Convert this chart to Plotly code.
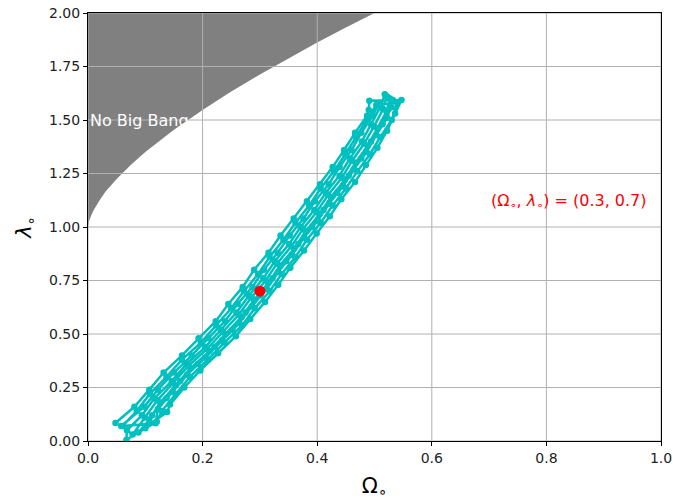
import plotly.graph_objects as go

# ---- data ----
boundary_omega = [0.0, 0.002, 0.005, 0.01, 0.02, 0.03, 0.05, 0.075, 0.1, 0.15, 0.2, 0.25, 0.3, 0.35, 0.4, 0.45, 0.5]
boundary_lambda = [1.0, 1.029, 1.050, 1.080, 1.124, 1.163, 1.224, 1.291, 1.350, 1.455, 1.547, 1.633, 1.713, 1.789, 1.862, 1.932, 2.0]

chain_omega = [
    # A (up)
    0.048, 0.081, 0.107, 0.132, 0.164, 0.193, 0.223, 0.245, 0.270, 0.290, 0.315, 0.336, 0.359, 0.382, 0.405, 0.427, 0.447, 0.466, 0.487, 0.490, 0.491,
    # B (down)
    0.547, 0.536, 0.522, 0.505, 0.485, 0.466, 0.442, 0.422, 0.399, 0.377, 0.353, 0.332, 0.309, 0.283, 0.258, 0.227, 0.196, 0.168, 0.143, 0.138,
    # C (up)
    0.067, 0.068, 0.094, 0.116, 0.146, 0.172, 0.205, 0.232, 0.259, 0.281, 0.306, 0.326, 0.351, 0.371, 0.395, 0.415, 0.439, 0.457, 0.478, 0.494, 0.510, 0.518,
    # D (down)
    0.532, 0.522, 0.503, 0.486, 0.464, 0.445, 0.421, 0.401, 0.377, 0.356, 0.332, 0.312, 0.286, 0.264, 0.234, 0.205, 0.173, 0.148, 0.122, 0.118,
    # E (up)
    0.060, 0.085, 0.108, 0.137, 0.164, 0.197, 0.224, 0.250, 0.272, 0.297, 0.317, 0.341, 0.362, 0.386, 0.406, 0.429, 0.449, 0.468, 0.487, 0.503,
    # F (down)
    0.540, 0.530, 0.510, 0.492, 0.470, 0.450, 0.427, 0.406, 0.382, 0.362, 0.338, 0.317, 0.291, 0.269, 0.238, 0.209, 0.178, 0.153, 0.129, 0.120,
    # G (up)
    0.088, 0.107, 0.126, 0.153, 0.179, 0.212, 0.240, 0.268, 0.290, 0.315, 0.335, 0.360, 0.380, 0.404, 0.424, 0.448, 0.467, 0.488, 0.505, 0.521, 0.527,
    # H (down)
    0.508, 0.497, 0.477, 0.460, 0.439, 0.420, 0.396, 0.376, 0.352, 0.331, 0.307, 0.287, 0.261, 0.239, 0.210, 0.181, 0.150, 0.122, 0.098, 0.058,
    # I (up)
    0.078, 0.099, 0.121, 0.148, 0.175, 0.208, 0.235, 0.263, 0.285, 0.310, 0.330, 0.355, 0.375, 0.399, 0.419, 0.443, 0.461, 0.482, 0.499, 0.515, 0.522,
    # J (down)
    0.530, 0.514, 0.494, 0.477, 0.455, 0.435, 0.411, 0.391, 0.367, 0.346, 0.322, 0.301, 0.275, 0.252, 0.221, 0.192, 0.161, 0.137, 0.112, 0.100,
]
chain_lambda = [
    # A
    0.084, 0.16, 0.24, 0.32, 0.40, 0.48, 0.56, 0.64, 0.72, 0.80, 0.88, 0.96, 1.04, 1.12, 1.20, 1.28, 1.36, 1.44, 1.52, 1.547, 1.59,
    # B
    1.593, 1.53, 1.45, 1.37, 1.29, 1.21, 1.13, 1.05, 0.97, 0.89, 0.81, 0.73, 0.65, 0.57, 0.49, 0.41, 0.33, 0.25, 0.17, 0.135,
    # C
    0.005, 0.05, 0.12, 0.20, 0.28, 0.36, 0.44, 0.52, 0.60, 0.68, 0.76, 0.84, 0.92, 1.00, 1.08, 1.16, 1.24, 1.32, 1.40, 1.48, 1.56, 1.62,
    # D
    1.593, 1.51, 1.43, 1.35, 1.27, 1.19, 1.11, 1.03, 0.95, 0.87, 0.79, 0.71, 0.63, 0.55, 0.47, 0.39, 0.31, 0.23, 0.15, 0.083,
    # E
    0.07, 0.14, 0.22, 0.30, 0.38, 0.46, 0.54, 0.62, 0.70, 0.78, 0.86, 0.94, 1.02, 1.10, 1.18, 1.26, 1.34, 1.42, 1.50, 1.57,
    # F
    1.58, 1.50, 1.42, 1.34, 1.26, 1.18, 1.10, 1.02, 0.94, 0.86, 0.78, 0.70, 0.62, 0.54, 0.46, 0.38, 0.30, 0.22, 0.14, 0.09,
    # G
    0.04, 0.10, 0.18, 0.26, 0.34, 0.42, 0.50, 0.58, 0.66, 0.74, 0.82, 0.90, 0.98, 1.06, 1.14, 1.22, 1.30, 1.38, 1.46, 1.54, 1.60,
    # H
    1.58, 1.52, 1.44, 1.36, 1.28, 1.20, 1.12, 1.04, 0.96, 0.88, 0.80, 0.72, 0.64, 0.56, 0.48, 0.40, 0.32, 0.24, 0.16, 0.07,
    # I
    0.03, 0.11, 0.19, 0.27, 0.35, 0.43, 0.51, 0.59, 0.67, 0.75, 0.83, 0.91, 0.99, 1.07, 1.15, 1.23, 1.31, 1.39, 1.47, 1.55, 1.61,
    # J
    1.56, 1.48, 1.40, 1.32, 1.24, 1.16, 1.08, 1.00, 0.92, 0.84, 0.76, 0.68, 0.60, 0.52, 0.44, 0.36, 0.28, 0.20, 0.12, 0.06,
]

best_omega = [0.3]
best_lambda = [0.7]

x_ticks = [0.0, 0.2, 0.4, 0.6, 0.8, 1.0]
x_tick_labels = ["0.0", "0.2", "0.4", "0.6", "0.8", "1.0"]
y_ticks = [0.0, 0.25, 0.5, 0.75, 1.0, 1.25, 1.5, 1.75, 2.0]
y_tick_labels = ["0.00", "0.25", "0.50", "0.75", "1.00", "1.25", "1.50", "1.75", "2.00"]

X_RANGE = [0.0, 1.0]
Y_RANGE = [0.0, 2.0]

FONT = "DejaVu Sans"

fig = go.Figure()

# shaded "No Big Bang" region (between boundary and the top of the axes)
fig.add_trace(go.Scatter(x=boundary_omega, y=[Y_RANGE[1]] * len(boundary_omega),
                         mode="lines", line=dict(width=0, color="gray"),
                         showlegend=False, hoverinfo="skip"))
fig.add_trace(go.Scatter(x=boundary_omega, y=boundary_lambda, mode="lines",
                         line=dict(width=0, color="gray"), fill="tonexty",
                         fillcolor="#808080", showlegend=False, hoverinfo="skip"))

# grid lines drawn above the shaded region, below the data
gx, gy = [], []
for t in x_ticks:
    gx += [t, t, None]
    gy += [Y_RANGE[0], Y_RANGE[1], None]
for t in y_ticks:
    gx += [X_RANGE[0], X_RANGE[1], None]
    gy += [t, t, None]
fig.add_trace(go.Scatter(x=gx, y=gy, mode="lines", line=dict(color="#b0b0b0", width=1),
                         showlegend=False, hoverinfo="skip", connectgaps=False))

# chain
fig.add_trace(go.Scatter(x=chain_omega, y=chain_lambda, mode="lines+markers",
                         line=dict(color="#00bfbf", width=2.5),
                         marker=dict(color="#00bfbf", size=6.5),
                         showlegend=False))

# best point
fig.add_trace(go.Scatter(x=best_omega, y=best_lambda, mode="markers",
                         marker=dict(color="#ff0000", size=11),
                         showlegend=False))

fig.add_annotation(x=0.0, y=1.5, xref="x", yref="y", text="No Big Bang",
                   showarrow=False, xanchor="left", yanchor="middle",
                   font=dict(family=FONT, size=16, color="white"))
fig.add_annotation(x=0.7, y=1.12, xref="x", yref="y",
                   text="(Ω<sub>∘</sub>, <i>λ</i><sub>∘</sub>) = (0.3, 0.7)",
                   showarrow=False, xanchor="left", yanchor="middle",
                   font=dict(family=FONT, size=16, color="#ff0000"))

axis_common = dict(showgrid=False, zeroline=False, showline=True, linecolor="black",
                   linewidth=1, mirror=True, ticks="outside", ticklen=4,
                   tickcolor="black", tickwidth=1, automargin=False,
                   tickfont=dict(family=FONT, size=14, color="#222222"))

fig.update_xaxes(range=X_RANGE, tickvals=x_ticks, ticktext=x_tick_labels,
                 title=dict(text="Ω<sub>∘</sub>", font=dict(family=FONT, size=21, color="black"), standoff=13),
                 **axis_common)
fig.update_yaxes(range=Y_RANGE, tickvals=y_ticks, ticktext=y_tick_labels,
                 title=dict(text="<i>λ</i><sub>∘</sub>", font=dict(family=FONT, size=21, color="black"), standoff=11),
                 **axis_common)

fig.update_layout(width=673, height=504, plot_bgcolor="white", paper_bgcolor="white",
                  margin=dict(l=88, r=12, t=13, b=63), font=dict(family=FONT))

# remove the default page margin so the figure fills the window exactly
fig.write_html("out.html", config={"displayModeBar": False},
               post_script="document.body.style.margin='0';")
